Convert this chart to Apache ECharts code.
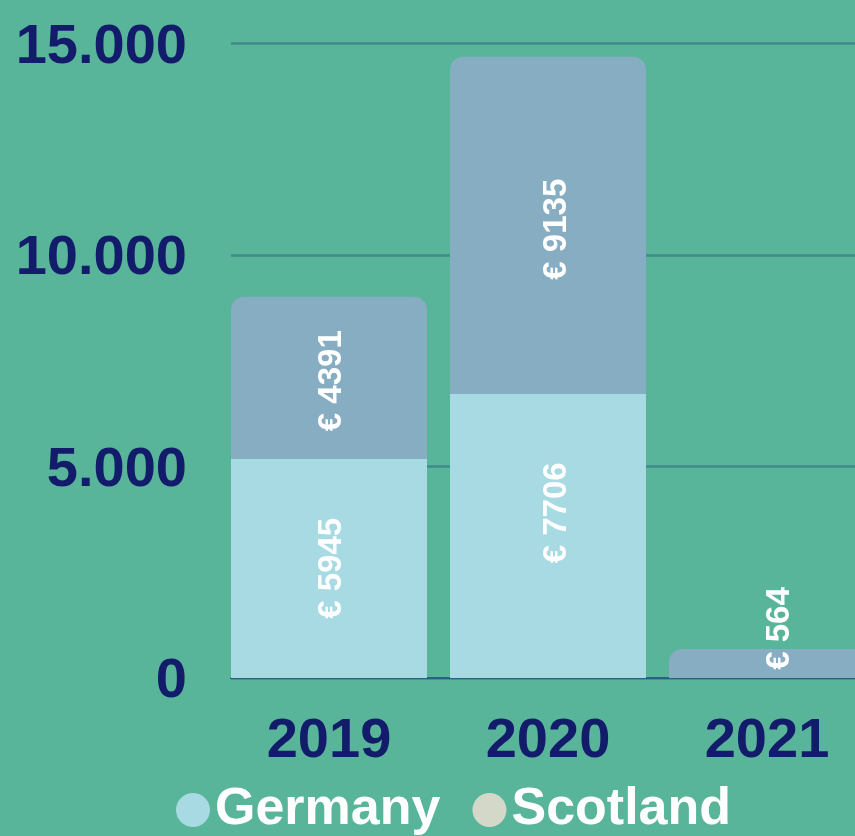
<!DOCTYPE html>
<html>
<head>
<meta charset="utf-8">
<script src="https://cdn.jsdelivr.net/npm/echarts@6/dist/echarts.min.js"></script>
<style>
  html, body { margin: 0; padding: 0; background: #58b599; }
  #chart { width: 855px; height: 836px; }
</style>
</head>
<body>
<div id="chart"></div>
<script>
  // data
  var years = ['2019', '2020', '2021'];
  var germany = [5945, 7706, null];
  var scotland = [4391, 9135, 564];
  var seriesNames = ['Germany', 'Scotland'];
  var axisTicks = [0, 5000, 10000, 15000];

  // label nudges, [along the text (up), across it (right)]
  var germanyLabelShift = [[0, 3], [23, 9], [0, 13]];
  var scotlandLabelShift = [[-3, 3], [-4, 9], [35, 13]];

  var navy = '#131c6b';
  var labelFont = {
      color: '#fff',
      fontFamily: 'Liberation Sans',
      fontWeight: 'bold',
      fontSize: 33
  };

  function withShift(values, shifts) {
      return values.map(function (v, i) {
          return { value: v, label: { offset: shifts[i] } };
      });
  }

  var dom = document.getElementById('chart');
  var myChart = echarts.init(dom, null, { renderer: 'canvas' });
  var option = {
      backgroundColor: '#58b599',
      animation: false,
      grid: [
          { left: 231, right: 0, top: 43.5, bottom: 158, outerBoundsMode: 'none' },
          { left: 219.5, width: 657, top: 43.5, bottom: 158, outerBoundsMode: 'none' }
      ],
      legend: {
          left: 171,
          top: 779,
          itemWidth: 34,
          itemHeight: 34,
          itemGap: 32,
          icon: 'circle',
          textStyle: {
              color: '#fff',
              fontFamily: 'Liberation Sans',
              fontWeight: 'bold',
              fontSize: 52
          },
          data: [
              { name: 'Germany', itemStyle: { color: '#a7dae3' } },
              { name: 'Scotland', itemStyle: { color: '#d3d8c8' } }
          ]
      },
      xAxis: [
          {
              gridIndex: 0,
              type: 'category',
              data: years,
              axisLine: { show: true, lineStyle: { color: '#2b5f84', width: 2 } },
              axisTick: { show: false },
              axisLabel: { show: false }
          },
          {
              gridIndex: 1,
              type: 'category',
              data: years,
              axisLine: { show: false },
              axisTick: { show: false },
              axisLabel: {
                  margin: 36,
                  color: navy,
                  fontFamily: 'Liberation Sans',
                  fontWeight: 'bold',
                  fontSize: 56
              }
          }
      ],
      yAxis: [
          {
              gridIndex: 0,
              type: 'value',
              min: axisTicks[0],
              max: axisTicks[axisTicks.length - 1],
              interval: axisTicks[1] - axisTicks[0],
              axisLine: { show: false },
              axisTick: { show: false },
              splitLine: { lineStyle: { color: '#3f8a8a', width: 2.5 } },
              axisLabel: {
                  margin: 44,
                  verticalAlign: 'top',
                  lineHeight: 8,
                  color: navy,
                  fontFamily: 'Liberation Sans',
                  fontWeight: 'bold',
                  fontSize: 56,
                  formatter: function (v) {
                      return String(v).replace(/\B(?=(\d{3})+(?!\d))/g, '.');
                  }
              }
          },
          {
              // the bars sit on their own, hidden scale
              gridIndex: 1,
              type: 'value',
              min: 0,
              max: 17200,
              show: false,
              splitLine: { show: false }
          }
      ],
      series: [
          {
              name: seriesNames[0],
              type: 'bar',
              stack: 'total',
              xAxisIndex: 1,
              yAxisIndex: 1,
              barWidth: 196,
              itemStyle: { color: '#a7dae3' },
              label: Object.assign({
                  show: true,
                  position: 'inside',
                  rotate: 90,
                  formatter: '€ {c}'
              }, labelFont),
              data: withShift(germany, germanyLabelShift)
          },
          {
              name: seriesNames[1],
              type: 'bar',
              stack: 'total',
              xAxisIndex: 1,
              yAxisIndex: 1,
              barWidth: 196,
              barMinHeight: 29,
              itemStyle: { color: '#87adc2', borderRadius: [13, 13, 0, 0] },
              label: Object.assign({
                  show: true,
                  position: 'inside',
                  rotate: 90,
                  formatter: '€ {c}'
              }, labelFont),
              data: withShift(scotland, scotlandLabelShift)
          }
      ]
  };
  myChart.setOption(option, true);
</script>
</body>
</html>
